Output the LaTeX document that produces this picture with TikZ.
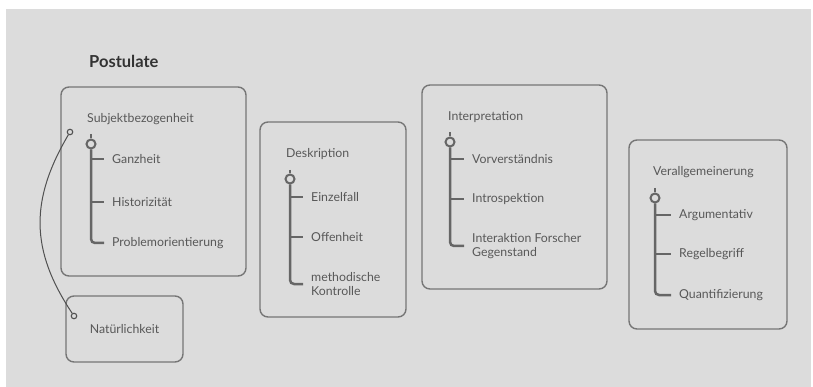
\documentclass[tikz,border=0pt]{standalone}
\usepackage{fontspec}
\setmainfont{Lato}
\definecolor{bg}{HTML}{DCDCDC}
\definecolor{boxline}{HTML}{767676}
\definecolor{treeline}{HTML}{666666}
\definecolor{txt}{HTML}{585858}
\definecolor{titletxt}{HTML}{333333}
\definecolor{linkline}{HTML}{505050}
\begin{document}
\begin{tikzpicture}[x=1pt,y=-1pt,
  box/.style={draw=boxline, line width=1.4pt, rounded corners=8pt, inner sep=0pt},
  heading/.style={anchor=west, inner sep=0pt, text=txt, font=\fontsize{12.3}{14}\selectfont},
  lbl/.style={anchor=west, inner xsep=8pt, inner ysep=0pt, text=txt, align=left,
    font=\fontsize{12.3}{14.5}\selectfont},
  hub/.style={circle, draw=treeline, line width=2pt, fill=bg, minimum size=9pt, inner sep=0pt},
  tree/.style={draw=treeline, line width=2.5pt},
  port/.style={circle, draw=linkline, line width=1.1pt, fill=bg, minimum size=5.5pt, inner sep=0pt},
  link/.style={draw=linkline, line width=1pt}]
\useasboundingbox (0,0) rectangle (813,387);
\fill[white] (0,0) rectangle (813,387);
\fill[bg] (6,9) rectangle (811,387);

\node[anchor=west, inner sep=0pt, text=titletxt, font=\bfseries\fontsize{16.5}{18}\selectfont]
  (title) at (89,61) {Postulate};

% outer boxes
\node[box, minimum width=185pt, minimum height=189pt] (b1) at (153.5,181.5) {};
\node[box, minimum width=117pt, minimum height=66pt, text=txt,
  font=\fontsize{12.3}{14}\selectfont] (b2) at (124.5,329) {Natürlichkeit};
\node[box, minimum width=146pt, minimum height=195pt] (b3) at (333,219.5) {};
\node[box, minimum width=185pt, minimum height=204pt] (b4) at (514.5,187) {};
\node[box, minimum width=158pt, minimum height=189pt] (b5) at (708,234.5) {};

% Subjektbezogenheit
\node[heading] (h1) at (87,119) {Subjektbezogenheit};
\coordinate (s1) at (91,134);
\node[hub] (k1) at (91,144) {};
\node[lbl] (a11) at (104,159) {Ganzheit};
\node[lbl] (a12) at (104,202) {Historizität};
\node[lbl] (a13) at (104,243) {Problemorientierung};
\draw[tree] (s1) -- (k1.north);
\draw[tree, rounded corners=4pt] (k1.south) |- (a13.west);
\draw[tree] (k1.south |- a11.west) -- (a11.west);
\draw[tree] (k1.south |- a12.west) -- (a12.west);

% link Subjektbezogenheit -- Natürlichkeit
\node[port] (p1) at (70,132) {};
\node[port] (p2) at (74,316) {};
\draw[link] (p1) .. controls (30,200) and (30,250) .. (p2);

% Deskription
\node[heading] (h3) at (286,154) {Deskription};
\coordinate (s3) at (290,170);
\node[hub] (k3) at (290,179) {};
\node[lbl] (a31) at (303,197) {Einzelfall};
\node[lbl] (a32) at (303,237) {Offenheit};
\node[lbl] (a33) at (303,284) {methodische\\Kontrolle};
\draw[tree] (s3) -- (k3.north);
\draw[tree, rounded corners=4pt] (k3.south) |- (a33.west);
\draw[tree] (k3.south |- a31.west) -- (a31.west);
\draw[tree] (k3.south |- a32.west) -- (a32.west);

% Interpretation
\node[heading] (h4) at (448,117) {Interpretation};
\coordinate (s4) at (450,132);
\node[hub] (k4) at (450,142) {};
\node[lbl] (a41) at (464,159) {Vorverständnis};
\node[lbl] (a42) at (464,199) {Introspektion};
\node[lbl] (a43) at (464,246) {Interaktion Forscher\\Gegenstand};
\draw[tree] (s4) -- (k4.north);
\draw[tree, rounded corners=4pt] (k4.south) |- (a43.west);
\draw[tree] (k4.south |- a41.west) -- (a41.west);
\draw[tree] (k4.south |- a42.west) -- (a42.west);

% Verallgemeinerung
\node[heading] (h5) at (653,172) {Verallgemeinerung};
\coordinate (s5) at (655,188);
\node[hub] (k5) at (655,198) {};
\node[lbl] (a51) at (671,215) {Argumentativ};
\node[lbl] (a52) at (671,254) {Regelbegriff};
\node[lbl] (a53) at (671,295) {Quantifizierung};
\draw[tree] (s5) -- (k5.north);
\draw[tree, rounded corners=4pt] (k5.south) |- (a53.west);
\draw[tree] (k5.south |- a51.west) -- (a51.west);
\draw[tree] (k5.south |- a52.west) -- (a52.west);
\end{tikzpicture}
\end{document}
